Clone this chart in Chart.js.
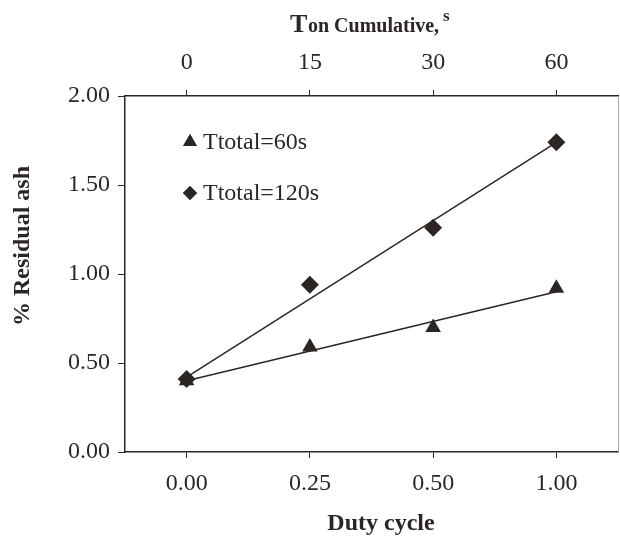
<!DOCTYPE html>
<html>
<head>
<meta charset="utf-8">
<script src="https://cdn.jsdelivr.net/npm/chart.js@4/dist/chart.umd.min.js"></script>
<style>
  html, body { margin: 0; padding: 0; background: #ffffff; }
  #wrap { width: 620px; height: 536px; }
</style>
</head>
<body>
<div id="wrap"><canvas id="ashChart" width="620" height="536"></canvas></div>
<script>
// DATA
const dutyCycle = ['0.00', '0.25', '0.50', '1.00'];
const tonCumulative = ['0', '15', '30', '60'];
const ash60 = [0.40, 0.59, 0.70, 0.92];
const ash120 = [0.41, 0.94, 1.26, 1.74];
// fitted lines, end values
const trend60 = [0.40, 0.90];
const trend120 = [0.42, 1.74];
const yTicks = [0, 0.5, 1.0, 1.5, 2.0];

const serif = '"Liberation Serif", "Times New Roman", serif';
const ink = '#2b2624';

function trendPoints(ends) {
  return [
    { x: dutyCycle[0], y: ends[0] },
    { x: dutyCycle[dutyCycle.length - 1], y: ends[1] }
  ];
}

// legend, right frame line and axis titles drawn inside the canvas
const annotations = {
  id: 'annotations',
  afterDraw(chart) {
    const ctx = chart.ctx;
    const area = chart.chartArea;
    ctx.save();

    // thin grey line closing the plot on the right
    ctx.strokeStyle = '#a8a8a8';
    ctx.lineWidth = 1;
    ctx.beginPath();
    ctx.moveTo(area.right + 0.5, area.top);
    ctx.lineTo(area.right + 0.5, area.bottom);
    ctx.stroke();

    // legend in the top-left of the plot
    const items = [
      { style: 'triangle', r: 8, label: 'Ttotal=60s', y: 142 },
      { style: 'rectRot', r: 7, label: 'Ttotal=120s', y: 193 }
    ];
    items.forEach(function (it) {
      ctx.fillStyle = ink;
      ctx.strokeStyle = ink;
      Chart.helpers.drawPoint(ctx, { pointStyle: it.style, radius: it.r, rotation: 0, borderWidth: 0 }, 190, it.y);
      ctx.fill();
      ctx.font = '24px ' + serif;
      ctx.textAlign = 'left';
      ctx.textBaseline = 'middle';
      ctx.fillText(it.label, 203, it.y + 1);
    });

    // top title: T on Cumulative, s
    ctx.fillStyle = ink;
    ctx.textBaseline = 'alphabetic';
    ctx.font = 'bold 26px ' + serif;
    ctx.fillText('T', 290, 32);
    ctx.font = 'bold 20px ' + serif;
    ctx.fillText('on Cumulative,', 308, 32);
    ctx.font = 'bold 17px ' + serif;
    ctx.fillText('s', 443, 21);

    // bottom title
    ctx.font = 'bold 24px ' + serif;
    ctx.textAlign = 'center';
    ctx.textBaseline = 'middle';
    ctx.fillText('Duty cycle', 381, 524);

    // left title
    ctx.translate(23, 246);
    ctx.rotate(-Math.PI / 2);
    ctx.fillText('% Residual ash', 0, 0);
    ctx.restore();
  }
};

const ctx = document.getElementById('ashChart').getContext('2d');

const ashChart = new Chart(ctx, {
  type: 'line',
  data: {
    labels: dutyCycle,
    datasets: [
      {
        label: 'fit 60s',
        data: trendPoints(trend60),
        borderColor: ink,
        borderWidth: 1.5,
        pointRadius: 0,
        fill: false
      },
      {
        label: 'fit 120s',
        data: trendPoints(trend120),
        borderColor: ink,
        borderWidth: 1.5,
        pointRadius: 0,
        fill: false
      },
      {
        label: 'Ttotal=60s',
        data: ash60,
        showLine: false,
        pointStyle: 'triangle',
        pointRadius: 9,
        backgroundColor: ink,
        borderColor: ink,
        borderWidth: 0
      },
      {
        label: 'Ttotal=120s',
        data: ash120,
        showLine: false,
        pointStyle: 'rectRot',
        pointRadius: 9,
        backgroundColor: ink,
        borderColor: ink,
        borderWidth: 0
      }
    ]
  },
  options: {
    responsive: false,
    animation: false,
    layout: { autoPadding: false, padding: { top: 0, right: 2, bottom: 0, left: 0 } },
    plugins: {
      legend: { display: false },
      tooltip: { enabled: false }
    },
    scales: {
      x: {
        type: 'category',
        position: 'bottom',
        offset: true,
        afterFit: function (s) { s.height = 84; s.paddingLeft = 0; s.paddingRight = 0; },
        grid: { offset: false, drawOnChartArea: false, drawTicks: true, tickLength: 6, tickColor: ink },
        border: { display: true, color: ink, width: 1.5 },
        ticks: { color: ink, padding: 11, font: { family: serif, size: 24 } }
      },
      x2: {
        type: 'category',
        position: 'top',
        labels: tonCumulative,
        offset: true,
        afterFit: function (s) { s.height = 96; s.paddingLeft = 0; s.paddingRight = 0; },
        grid: { offset: false, drawOnChartArea: false, drawTicks: true, tickLength: 6, tickColor: ink },
        border: { display: true, color: ink, width: 1.5 },
        ticks: { color: ink, padding: 13, font: { family: serif, size: 24 } }
      },
      y: {
        type: 'linear',
        position: 'left',
        min: 0,
        max: 2,
        afterFit: function (s) { s.width = 125; s.paddingTop = 0; s.paddingBottom = 0; },
        afterBuildTicks: function (s) { s.ticks = yTicks.map(function (v) { return { value: v }; }); },
        grid: { drawOnChartArea: false, drawTicks: true, tickLength: 7, tickColor: ink },
        border: { display: true, color: ink, width: 1.5 },
        ticks: {
          color: ink,
          padding: 8,
          font: { family: serif, size: 24 },
          callback: function (v) { return Number(v).toFixed(2); }
        }
      }
    }
  },
  plugins: [annotations]
});
</script>
</body>
</html>
